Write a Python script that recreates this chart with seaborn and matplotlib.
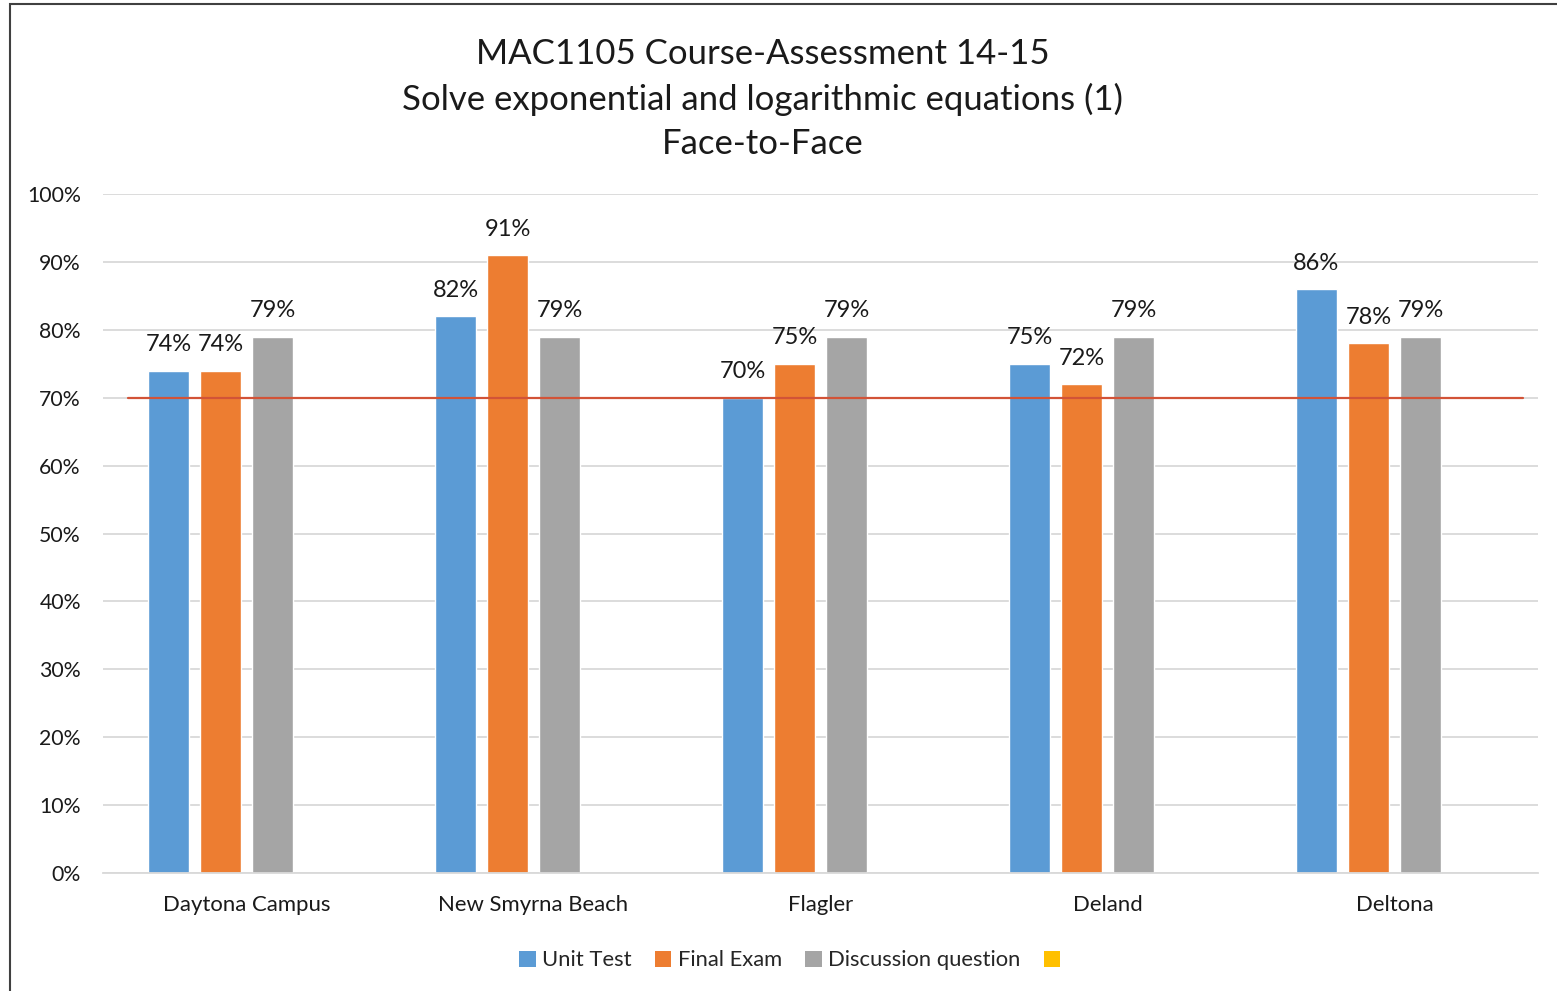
import numpy as np
import pandas as pd
import matplotlib
matplotlib.use("Agg")
import matplotlib.pyplot as plt
from matplotlib.patches import Patch, Rectangle
from matplotlib.ticker import FuncFormatter
import seaborn as sns

campuses = ["Daytona Campus", "New Smyrna Beach", "Flagler", "Deland", "Deltona"]
series_names = ["Unit Test", "Final Exam", "Discussion question", " "]
unit_test = [74, 82, 70, 75, 86]
final_exam = [74, 91, 75, 72, 78]
discussion = [79, 79, 79, 79, 79]
blank = [np.nan] * 5
target = 70
colors = ["#5B9BD5", "#ED7D31", "#A5A5A5", "#FFC000"]

rows = []
for name, vals in zip(series_names, [unit_test, final_exam, discussion, blank]):
    for c, v in zip(campuses, vals):
        rows.append({"campus": c, "series": name, "score": v})
df = pd.DataFrame(rows)

sns.set_theme(style="white")
plt.rcParams["font.family"] = ["Lato", "DejaVu Sans"]

fig = plt.figure(figsize=(15.57, 9.91), dpi=100)
ax = fig.add_axes([0.0662, 0.1191, 0.9216, 0.6851])

sns.barplot(data=df, x="campus", y="score", hue="series", hue_order=series_names,
            order=campuses, palette=colors, width=0.725, gap=0.21,
            legend=False, ax=ax, saturation=1, err_kws={"linewidth": 0})

# data labels above each bar
for cont in ax.containers:
    ax.bar_label(cont, fmt="%.0f%%", padding=11, fontsize=17, color="#1a1a1a")

ax.axhline(target, xmin=0.0174, xmax=0.9895, color="#D25337", lw=1.6, zorder=3)

ax.set_ylim(0, 100)
ax.set_xlim(-0.5, len(campuses) - 0.5)
ax.set_yticks(range(0, 101, 10))
ax.yaxis.set_major_formatter(FuncFormatter(lambda v, p: f"{v:.0f}%"))
ax.grid(axis="y", color="#D9D9D9", lw=1.3)
ax.set_axisbelow(True)
for s in ["top", "right", "left"]:
    ax.spines[s].set_visible(False)
ax.spines["bottom"].set_color("#D9D9D9")
ax.spines["bottom"].set_linewidth(1.3)
ax.tick_params(axis="y", length=0, pad=16, labelsize=15.3, labelcolor="#1a1a1a")
ax.tick_params(axis="x", length=0, pad=16, labelsize=15.9, labelcolor="#1a1a1a")
ax.set_xlabel("")
ax.set_ylabel("")

fig.text(0.49, 0.9, "MAC1105 Course-Assessment 14-15\nSolve exponential and logarithmic equations (1)\nFace-to-Face",
         ha="center", va="center", fontsize=25, linespacing=1.47, color="#1a1a1a")

handles = [Patch(facecolor=c, edgecolor="none") for c in colors]
fig.legend(handles, series_names, loc="center", bbox_to_anchor=(0.511, 0.031), ncol=4,
           frameon=False, fontsize=15.8, handlelength=0.75, handleheight=0.75,
           handletextpad=0.3, columnspacing=1.05)

fig.patches.append(Rectangle((10 / 1557, -0.2), 1.2, 0.2 + (991 - 4) / 991,
                             transform=fig.transFigure, fill=False,
                             edgecolor="#404040", lw=1.5, clip_on=False))

fig.savefig("out.png", dpi=100)
